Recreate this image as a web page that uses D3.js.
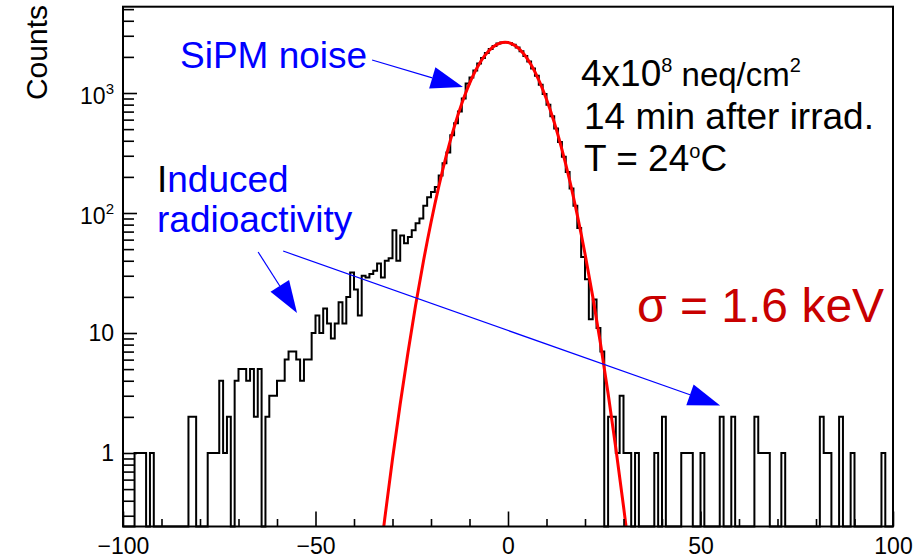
<!DOCTYPE html>
<html lang="en">
<head>
<meta charset="utf-8">
<title>SiPM noise spectrum</title>
<script src="https://cdn.jsdelivr.net/npm/d3@7"></script>
<style>
  body { margin: 0; background: #fff; }
  text { font-family: "Liberation Sans", Arial, sans-serif; }
</style>
</head>
<body>
<script>
var w = 922, h = 558;
var plotL = 123, plotR = 893, plotT = 6.7, plotB = 526.5;

// histogram, 1 unit bins from -100 to 100 (counts)
var binStart = -100;
var binWidth = 1;
var counts = [
  0, 0, 0, 1, 1, 1, 0, 1, 0, 0,            // -100 .. -91
  0, 0, 0, 0, 0, 0, 0, 2, 2, 0,            // -90 .. -81
  0, 0, 1, 1, 1, 4, 1, 2, 0, 4,            // -80 .. -71
  5, 5, 4, 5, 2, 5, 0, 2, 3, 3,            // -70 .. -61
  4, 4, 6, 7, 7, 6, 4, 6, 6, 10,           // -60 .. -51
  14, 10, 16, 12, 9, 12, 18, 12, 20, 32,   // -50 .. -41
  23, 14, 30, 29, 31, 33, 38, 29, 40, 42,  // -40 .. -31
  72, 40, 65, 56, 63, 72, 82, 90, 115, 135,            // -30 .. -21
  150, 165, 205, 260, 320, 445, 560, 700, 900, 1200,   // -20 .. -11
  1350, 1540, 1760, 1960, 2150, 2330, 2470, 2580, 2640, 2650, // -10 .. -1
  2610, 2520, 2390, 2230, 2030, 1830, 1600, 1390, 1170, 980,  // 0 .. 9
  800, 640, 505, 390, 295, 220, 160, 115, 75, 43,      // 10 .. 19
  28, 13, 19, 11, 7, 0, 2, 2, 1, 3,        // 20 .. 29
  1, 1, 0, 1, 0, 0, 0, 0, 1, 0,            // 30 .. 39
  2, 0, 0, 0, 0, 1, 1, 1, 0, 0,            // 40 .. 49
  1, 0, 0, 0, 0, 2, 0, 0, 2, 0,            // 50 .. 59
  0, 0, 0, 0, 2, 1, 1, 1, 0, 0,            // 60 .. 69
  0, 1, 0, 0, 0, 0, 0, 0, 0, 0,            // 70 .. 79
  0, 2, 1, 1, 0, 0, 2, 0, 0, 1,            // 80 .. 89
  0, 0, 0, 0, 0, 0, 0, 1, 0, 0             // 90 .. 99
];

// red fit curve
var fitX = [-34, -32, -30, -28, -26, -24, -22, -20, -18, -16, -14, -12, -10, -8, -6, -4, -2,
            0, 2, 4, 6, 8, 10, 12, 14, 16, 18, 20, 22, 24, 26, 28, 30, 32];
var fitY = [0.085, 0.286, 0.89, 2.56, 6.8, 17.0, 39.1, 83.4, 165, 303, 517, 817, 1198, 1630, 2056, 2407, 2614,
            2634, 2462, 2135, 1717, 1282, 887, 570, 339, 188, 96, 45.8, 20.2, 8.25, 3.13, 1.10, 0.36, 0.11];

var xTicks = [-100, -50, 0, 50, 100];
var xTickLabels = ["\u2212100", "\u221250", "0", "50", "100"];
var xMinorTicks = [-90, -80, -70, -60, -40, -30, -20, -10, 10, 20, 30, 40, 60, 70, 80, 90];
var yMin = 0.244, yMax = 5240;
var yTicks = [1, 10, 100, 1000];
var yTickBase = ["1", "10", "10", "10"];
var yTickExp = ["", "", "2", "3"];
var yMinorTicks = [0.3, 0.4, 0.5, 0.6, 0.7, 0.8, 0.9, 2, 3, 4, 5, 6, 7, 8, 9,
                   20, 30, 40, 50, 60, 70, 80, 90, 200, 300, 400, 500, 600, 700, 800, 900,
                   2000, 3000, 4000, 5000];

// annotation arrows, [x, counts] at the start and at the tip
var arrows = [
  {from: [-35.3, 1884], to: [-11.7, 1122]},
  {from: [-64.9, 47.3], to: [-54.8, 14.7]},
  {from: [-58.4, 48.2], to: [55.1, 2.49]}
];

var x = d3.scaleLinear().domain([-100, 100]).range([plotL, plotR]);
var y = d3.scaleLog().domain([yMin, yMax]).range([plotB, plotT]);

var svg = d3.select("body").append("svg")
    .attr("width", w)
    .attr("height", h);

svg.append("defs").append("clipPath").attr("id", "clip")
  .append("rect")
    .attr("x", plotL).attr("y", plotT)
    .attr("width", plotR - plotL).attr("height", plotB - plotT);

// histogram outline (empty bins drop to the bottom of the frame)
var edges = counts.map(function(c, i) { return {x: binStart + i * binWidth, c: c}; });
edges.push({x: binStart + counts.length * binWidth, c: counts[counts.length - 1]});

var histLine = d3.line()
    .x(function(d) { return x(d.x); })
    .y(function(d) { return d.c > yMin ? y(d.c) : plotB; })
    .curve(d3.curveStepAfter);

svg.append("path")
    .datum(edges)
    .attr("d", histLine)
    .attr("fill", "none")
    .attr("stroke", "#000")
    .attr("stroke-width", 2);

// fit
var fitLine = d3.line()
    .x(function(d) { return x(d[0]); })
    .y(function(d) { return y(d[1]); })
    .curve(d3.curveCatmullRom);

svg.append("path")
    .datum(d3.zip(fitX, fitY))
    .attr("clip-path", "url(#clip)")
    .attr("d", fitLine)
    .attr("fill", "none")
    .attr("stroke", "#ff0000")
    .attr("stroke-width", 3);

// axes, ticks pointing into the frame
var xAxis = d3.axisBottom(x).tickValues(xTicks).tickSize(-15).tickSizeOuter(0).tickPadding(11)
    .tickFormat(function(d, i) { return xTickLabels[i]; });
var xMinor = d3.axisBottom(x).tickValues(xMinorTicks).tickSize(-7.5).tickSizeOuter(0).tickFormat("");

var gx = svg.append("g").attr("transform", "translate(0," + plotB + ")").call(xAxis);
svg.append("g").attr("transform", "translate(0," + plotB + ")").call(xMinor);

var yAxis = d3.axisLeft(y).tickValues(yTicks).tickSize(-14).tickSizeOuter(0).tickPadding(9)
    .tickFormat(function(d, i) { return yTickBase[i]; });
var yMinor = d3.axisLeft(y).tickValues(yMinorTicks).tickSize(-11).tickSizeOuter(0).tickFormat("");

var gy = svg.append("g").attr("transform", "translate(" + plotL + ",0)").call(yAxis);
svg.append("g").attr("transform", "translate(" + plotL + ",0)").call(yMinor);

svg.selectAll(".tick line").attr("stroke", "#000").attr("stroke-width", 1.6);
svg.selectAll(".domain").remove();

gx.selectAll(".tick text")
    .attr("font-size", "23px")
    .attr("font-family", "Liberation Sans, Arial, sans-serif")
    .attr("fill", "#000");

gy.selectAll(".tick text")
    .attr("font-size", "23px")
    .attr("font-family", "Liberation Sans, Arial, sans-serif")
    .attr("fill", "#000")
    .each(function(d, i) {
        if (!yTickExp[i]) return;
        var t = d3.select(this).text(null).attr("dy", "0.45em");
        t.append("tspan").text(yTickBase[i]);
        t.append("tspan").attr("font-size", "15px").attr("dy", "-10px").text(yTickExp[i]);
    });

// frame
svg.append("rect")
    .attr("x", plotL).attr("y", plotT)
    .attr("width", plotR - plotL).attr("height", plotB - plotT)
    .attr("fill", "none")
    .attr("stroke", "#000")
    .attr("stroke-width", 2);

// y title
svg.append("text")
    .attr("transform", "translate(47,5) rotate(-90)")
    .attr("text-anchor", "end")
    .attr("font-size", "30px")
    .text("Counts");

// arrows
var headLen = 32, headHalf = 11;
arrows.forEach(function(a) {
    var x0 = x(a.from[0]), y0 = y(a.from[1]);
    var x1 = x(a.to[0]), y1 = y(a.to[1]);
    var len = Math.sqrt((x1 - x0) * (x1 - x0) + (y1 - y0) * (y1 - y0));
    var ux = (x1 - x0) / len, uy = (y1 - y0) / len;
    var bx = x1 - headLen * ux, by = y1 - headLen * uy;
    svg.append("line")
        .attr("x1", x0).attr("y1", y0).attr("x2", bx).attr("y2", by)
        .attr("stroke", "#0000ff").attr("stroke-width", 1.2);
    svg.append("path")
        .attr("d", "M" + x1 + "," + y1 +
                   "L" + (bx - headHalf * uy) + "," + (by + headHalf * ux) +
                   "L" + (bx + headHalf * uy) + "," + (by - headHalf * ux) + "Z")
        .attr("fill", "#0000ff");
});

// labels
svg.append("text")
    .attr("x", 180).attr("y", 68)
    .attr("font-size", "37px").attr("fill", "#0000ff")
    .text("SiPM noise");

var ind = svg.append("text")
    .attr("x", 157).attr("y", 192)
    .attr("font-size", "37px").attr("fill", "#0000ff");
ind.append("tspan").attr("fill", "#000").text("I");
ind.append("tspan").text("nduced");

svg.append("text")
    .attr("x", 157).attr("y", 232)
    .attr("font-size", "37px").attr("fill", "#0000ff")
    .text("radioactivity");

var l1 = svg.append("text").attr("x", 581).attr("y", 86).attr("font-size", "37px");
l1.append("tspan").text("4x10");
l1.append("tspan").attr("font-size", "20px").attr("dy", "-14px").text("8");
l1.append("tspan").attr("font-size", "33px").attr("dy", "14px").text(" neq/cm");
l1.append("tspan").attr("font-size", "20px").attr("dy", "-14px").text("2");

svg.append("text").attr("x", 584).attr("y", 129).attr("font-size", "37px")
    .text("14 min after irrad.");

var l3 = svg.append("text").attr("x", 584).attr("y", 171).attr("font-size", "37px");
l3.append("tspan").text("T = 24");
l3.append("tspan").attr("font-size", "20px").attr("dy", "-13px").text("o");
l3.append("tspan").attr("dy", "13px").text("C");

svg.append("text")
    .attr("x", 637).attr("y", 322)
    .attr("font-size", "48px").attr("fill", "#c80000")
    .text("\u03c3 = 1.6 keV");
</script>
</body>
</html>
